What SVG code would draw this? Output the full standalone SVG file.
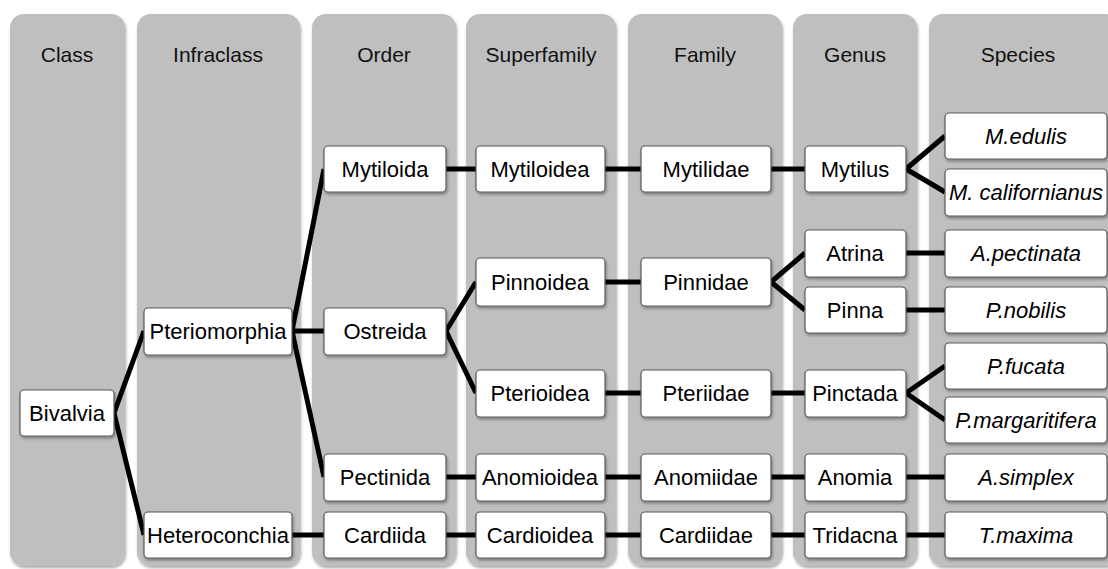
<svg xmlns="http://www.w3.org/2000/svg" width="1108" height="569" viewBox="0 0 1108 569">
<defs>
<filter id="sh" x="-10%" y="-10%" width="130%" height="130%">
<feGaussianBlur in="SourceAlpha" stdDeviation="1.5"/>
<feOffset dx="1" dy="2" result="b"/>
<feComponentTransfer><feFuncA type="linear" slope="0.35"/></feComponentTransfer>
<feMerge><feMergeNode/><feMergeNode in="SourceGraphic"/></feMerge>
</filter>
<style>
.col{fill:#bfbfbf;filter:url(#sh)}
.hd{font-family:"Liberation Sans",Arial,sans-serif;font-size:21px;fill:#111;text-anchor:middle}
.nb{fill:#ffffff;stroke:#5a5a5a;stroke-width:1.2;filter:url(#sh)}
.nt{font-family:"Liberation Sans",Arial,sans-serif;font-size:22px;fill:#000;text-anchor:middle;dominant-baseline:central}
.it{font-style:italic}
.cn{stroke:#000;stroke-width:5;fill:none;stroke-linejoin:round}
</style>
</defs>
<rect width="1108" height="569" fill="#ffffff"/>
<g id="columns">
<rect class="col" x="10" y="14" width="115" height="552" rx="14"/>
<rect class="col" x="137" y="14" width="163" height="552" rx="14"/>
<rect class="col" x="312" y="14" width="144" height="552" rx="14"/>
<rect class="col" x="466" y="14" width="150" height="552" rx="14"/>
<rect class="col" x="628" y="14" width="154" height="552" rx="14"/>
<rect class="col" x="793" y="14" width="124" height="552" rx="14"/>
<rect class="col" x="929" y="14" width="190" height="552" rx="14"/>
<text class="hd" x="67" y="62">Class</text>
<text class="hd" x="218" y="62">Infraclass</text>
<text class="hd" x="384" y="62">Order</text>
<text class="hd" x="541" y="62">Superfamily</text>
<text class="hd" x="705" y="62">Family</text>
<text class="hd" x="855" y="62">Genus</text>
<text class="hd" x="1018" y="62">Species</text>
</g>
<g id="connectors">
<path class="cn" d="M114,413 L144,331 M114,413 L144,535"/>
<path class="cn" d="M292,331 L324,169 M292,331 L324,331 M292,331 L324,477 M292,535 L324,535"/>
<path class="cn" d="M446,169 L476,169 M446,331 L476,282 M446,331 L476,393 M446,477 L476,477 M446,535 L476,535"/>
<path class="cn" d="M605,169 L641,169 M605,282 L641,282 M605,393 L641,393 M605,477 L641,477 M605,535 L641,535"/>
<path class="cn" d="M771,169 L805,169 M771,282 L805,253 M771,282 L805,310 M771,393 L805,393 M771,477 L805,477 M771,535 L805,535"/>
<path class="cn" d="M906,169 L945,136 M906,169 L945,192 M906,253 L945,253 M906,310 L945,310 M906,393 L945,366 M906,393 L945,420 M906,477 L945,477 M906,535 L945,535"/>
</g>
<g id="n-bivalvia"><rect class="nb" x="20" y="390" width="94" height="46" rx="4"/><text class="nt" x="67" y="413">Bivalvia</text></g>
<g id="n-pteriomorphia"><rect class="nb" x="144" y="308" width="148" height="47" rx="4"/><text class="nt" x="218" y="331">Pteriomorphia</text></g>
<g id="n-heteroconchia"><rect class="nb" x="144" y="512" width="148" height="46" rx="4"/><text class="nt" x="218" y="535">Heteroconchia</text></g>
<g id="n-mytiloida"><rect class="nb" x="324" y="146" width="122" height="46" rx="4"/><text class="nt" x="385" y="169">Mytiloida</text></g>
<g id="n-ostreida"><rect class="nb" x="324" y="308" width="122" height="47" rx="4"/><text class="nt" x="385" y="331">Ostreida</text></g>
<g id="n-pectinida"><rect class="nb" x="324" y="454" width="122" height="47" rx="4"/><text class="nt" x="385" y="477">Pectinida</text></g>
<g id="n-cardiida"><rect class="nb" x="324" y="512" width="122" height="46" rx="4"/><text class="nt" x="385" y="535">Cardiida</text></g>
<g id="n-mytiloidea"><rect class="nb" x="476" y="146" width="129" height="46" rx="4"/><text class="nt" x="540" y="169">Mytiloidea</text></g>
<g id="n-pinnoidea"><rect class="nb" x="476" y="258" width="129" height="48" rx="4"/><text class="nt" x="540" y="282">Pinnoidea</text></g>
<g id="n-pterioidea"><rect class="nb" x="476" y="370" width="129" height="47" rx="4"/><text class="nt" x="540" y="393">Pterioidea</text></g>
<g id="n-anomioidea"><rect class="nb" x="476" y="454" width="129" height="47" rx="4"/><text class="nt" x="540" y="477">Anomioidea</text></g>
<g id="n-cardioidea"><rect class="nb" x="476" y="512" width="129" height="46" rx="4"/><text class="nt" x="540" y="535">Cardioidea</text></g>
<g id="n-mytilidae"><rect class="nb" x="641" y="146" width="130" height="46" rx="4"/><text class="nt" x="706" y="169">Mytilidae</text></g>
<g id="n-pinnidae"><rect class="nb" x="641" y="258" width="130" height="48" rx="4"/><text class="nt" x="706" y="282">Pinnidae</text></g>
<g id="n-pteriidae"><rect class="nb" x="641" y="370" width="130" height="47" rx="4"/><text class="nt" x="706" y="393">Pteriidae</text></g>
<g id="n-anomiidae"><rect class="nb" x="641" y="454" width="130" height="47" rx="4"/><text class="nt" x="706" y="477">Anomiidae</text></g>
<g id="n-cardiidae"><rect class="nb" x="641" y="512" width="130" height="46" rx="4"/><text class="nt" x="706" y="535">Cardiidae</text></g>
<g id="n-mytilus"><rect class="nb" x="805" y="146" width="101" height="46" rx="4"/><text class="nt" x="855" y="169">Mytilus</text></g>
<g id="n-atrina"><rect class="nb" x="805" y="230" width="101" height="47" rx="4"/><text class="nt" x="855" y="253">Atrina</text></g>
<g id="n-pinna"><rect class="nb" x="805" y="287" width="101" height="46" rx="4"/><text class="nt" x="855" y="310">Pinna</text></g>
<g id="n-pinctada"><rect class="nb" x="805" y="370" width="101" height="47" rx="4"/><text class="nt" x="855" y="393">Pinctada</text></g>
<g id="n-anomia"><rect class="nb" x="805" y="454" width="101" height="47" rx="4"/><text class="nt" x="855" y="477">Anomia</text></g>
<g id="n-tridacna"><rect class="nb" x="805" y="512" width="101" height="46" rx="4"/><text class="nt" x="855" y="535">Tridacna</text></g>
<g id="n-medulis"><rect class="nb" x="945" y="113" width="162" height="46" rx="4"/><text class="nt it" x="1026" y="136">M.edulis</text></g>
<g id="n-mcalifornianus"><rect class="nb" x="945" y="169" width="162" height="47" rx="4"/><text class="nt it" x="1026" y="192">M. californianus</text></g>
<g id="n-apectinata"><rect class="nb" x="945" y="230" width="162" height="47" rx="4"/><text class="nt it" x="1026" y="253">A.pectinata</text></g>
<g id="n-pnobilis"><rect class="nb" x="945" y="287" width="162" height="46" rx="4"/><text class="nt it" x="1026" y="310">P.nobilis</text></g>
<g id="n-pfucata"><rect class="nb" x="945" y="343" width="162" height="46" rx="4"/><text class="nt it" x="1026" y="366">P.fucata</text></g>
<g id="n-pmargaritifera"><rect class="nb" x="945" y="397" width="162" height="46" rx="4"/><text class="nt it" x="1026" y="420">P.margaritifera</text></g>
<g id="n-asimplex"><rect class="nb" x="945" y="454" width="162" height="47" rx="4"/><text class="nt it" x="1026" y="477">A.simplex</text></g>
<g id="n-tmaxima"><rect class="nb" x="945" y="512" width="162" height="46" rx="4"/><text class="nt it" x="1026" y="535">T.maxima</text></g>
</svg>
